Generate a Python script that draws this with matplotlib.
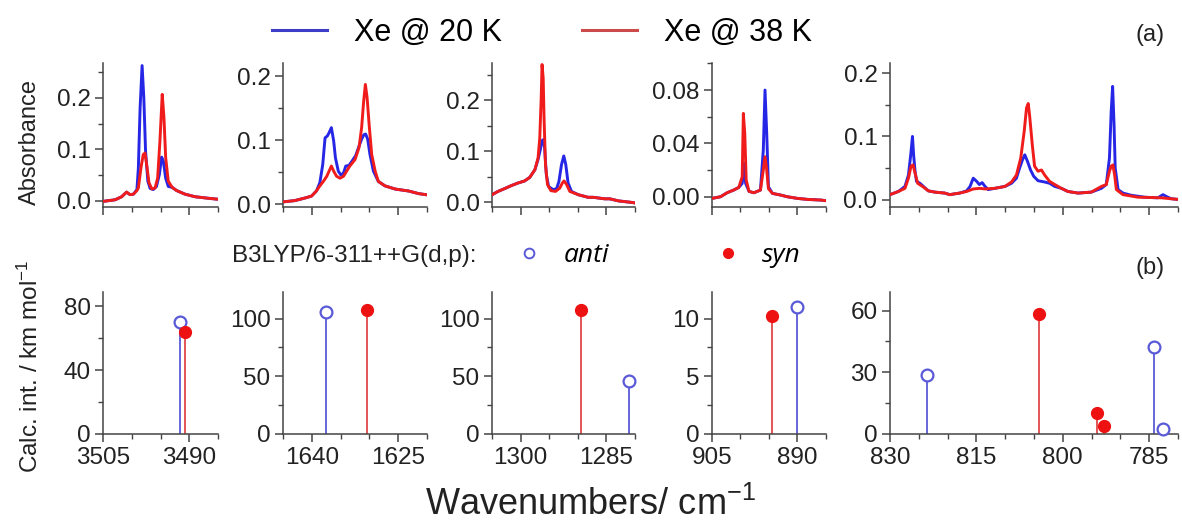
import matplotlib
matplotlib.use("Agg")
import matplotlib.pyplot as plt
from matplotlib.lines import Line2D
from matplotlib.ticker import MultipleLocator, FormatStrFormatter

plt.rcParams['font.family'] = ['Liberation Sans', 'DejaVu Sans']
plt.rcParams['mathtext.default'] = 'regular'

# ---------------- data ----------------
# Panel 1 (OH stretch region)
p1_wn_20 = [3504.95, 3502.9, 3501.75, 3500.9, 3500.3, 3499.7, 3499.1, 3498.85, 3498.55, 3498.2,
            3497.9, 3497.6, 3497.2, 3496.8, 3496.25, 3495.7, 3495.2, 3494.8, 3494.5, 3494.1,
            3493.65, 3492.95, 3492.2, 3490.75, 3489.0, 3486.7, 3484.95]
p1_ab_20 = [-0.001, 0.002, 0.008, 0.017, 0.012, 0.013, 0.022, 0.064, 0.18, 0.263,
            0.20, 0.097, 0.038, 0.024, 0.022, 0.028, 0.051, 0.085, 0.077, 0.044,
            0.028, 0.026, 0.020, 0.013, 0.008, 0.005, 0.003]
p1_wn_38 = [3504.95, 3502.9, 3501.75, 3500.9, 3500.3, 3499.7, 3499.1, 3498.85, 3498.4, 3498.0,
            3497.7, 3497.4, 3497.0, 3496.5, 3495.95, 3495.5, 3495.1, 3494.7, 3494.4, 3494.1,
            3493.65, 3492.95, 3492.2, 3490.75, 3489.0, 3486.7, 3484.95]
p1_ab_38 = [-0.001, 0.002, 0.008, 0.017, 0.012, 0.013, 0.020, 0.025, 0.064, 0.09,
            0.093, 0.07, 0.035, 0.023, 0.025, 0.044, 0.116, 0.207, 0.162, 0.084,
            0.038, 0.026, 0.020, 0.013, 0.008, 0.005, 0.003]

# Panel 2
p2_wn_20 = [1645.0, 1642.96, 1641.2, 1640.05, 1639.2, 1638.6, 1638.1, 1637.7, 1637.3, 1637.0,
            1636.6, 1636.2, 1635.9, 1635.4, 1634.95, 1634.5, 1634.1, 1633.55, 1633.0, 1632.4,
            1631.8, 1631.35, 1630.95, 1630.65, 1630.3, 1629.9, 1629.3, 1628.45, 1627.3, 1625.5,
            1623.2, 1621.5, 1620.0]
p2_ab_20 = [0.004, 0.006, 0.010, 0.013, 0.021, 0.034, 0.0625, 0.104, 0.107, 0.112,
            0.120, 0.099, 0.073, 0.052, 0.046, 0.049, 0.060, 0.061, 0.068, 0.076,
            0.091, 0.102, 0.109, 0.110, 0.102, 0.078, 0.052, 0.036, 0.029, 0.024,
            0.021, 0.017, 0.015]
p2_wn_38 = [1645.0, 1642.96, 1641.2, 1640.05, 1639.2, 1638.6, 1638.0, 1637.4, 1637.0, 1636.6,
            1636.2, 1635.7, 1635.1, 1634.5, 1633.95, 1633.4, 1632.5, 1631.8, 1631.35, 1631.0,
            1630.7, 1630.4, 1630.05, 1629.6, 1629.0, 1628.45, 1627.3, 1625.5, 1623.2, 1621.5,
            1620.0]
p2_ab_38 = [0.004, 0.006, 0.010, 0.013, 0.021, 0.029, 0.036, 0.044, 0.052, 0.060,
            0.052, 0.044, 0.041, 0.044, 0.052, 0.060, 0.070, 0.089, 0.120, 0.161,
            0.1875, 0.167, 0.125, 0.078, 0.052, 0.036, 0.029, 0.024, 0.021, 0.017,
            0.015]

# Panel 3
p3_wn_20 = [1305.0, 1303.95, 1302.8, 1301.6, 1300.45, 1299.3, 1298.4, 1297.5, 1296.95, 1296.5,
            1296.25, 1296.0, 1295.8, 1295.5, 1295.1, 1294.3, 1293.7, 1293.3, 1292.85, 1292.45,
            1292.1, 1291.7, 1291.1, 1289.9, 1288.2, 1287.3, 1285.3, 1284.4, 1282.9, 1280.6,
            1280.0]
p3_ab_20 = [0.015, 0.0215, 0.027, 0.033, 0.038, 0.042, 0.049, 0.064, 0.084, 0.106,
            0.121, 0.123, 0.106, 0.054, 0.031, 0.025, 0.027, 0.041, 0.074, 0.091,
            0.074, 0.038, 0.0215, 0.015, 0.010, 0.010, 0.007, 0.007, 0.003, 0.0,
            -0.001]
p3_wn_38 = [1305.0, 1303.95, 1302.8, 1301.6, 1300.45, 1299.3, 1298.4, 1297.5, 1296.95, 1296.65,
            1296.4, 1296.25, 1296.05, 1295.9, 1295.65, 1295.3, 1294.7, 1293.9, 1293.15, 1292.7,
            1292.4, 1291.95, 1291.4, 1289.9, 1288.2, 1287.3, 1285.3, 1284.4, 1282.9, 1280.6,
            1280.0]
p3_ab_38 = [0.015, 0.0215, 0.027, 0.033, 0.038, 0.042, 0.049, 0.064, 0.087, 0.126,
            0.204, 0.270, 0.243, 0.165, 0.074, 0.035, 0.023, 0.0215, 0.028, 0.038,
            0.042, 0.035, 0.0215, 0.015, 0.010, 0.010, 0.007, 0.007, 0.003, 0.0,
            -0.001]

# Panel 4
p4_wn_20 = [905.0, 903.5, 902.35, 901.2, 900.3, 899.7, 899.4, 899.1, 898.5, 897.65,
            896.5, 896.0, 895.7, 895.4, 895.1, 894.4, 892.95, 891.8, 890.0, 888.25,
            885.9, 885.0]
p4_ab_20 = [-0.00125, 0.0, 0.003, 0.005, 0.007, 0.010, 0.025, 0.010, 0.004, 0.003,
            0.005, 0.035, 0.080, 0.0475, 0.0075, 0.0025, 0.00125, 0.0, -0.00125, -0.002,
            -0.0025, -0.003]
p4_wn_38 = [905.0, 903.5, 902.35, 901.2, 900.3, 899.7, 899.5, 899.25, 899.0, 898.5,
            897.65, 896.5, 896.0, 895.7, 895.4, 895.1, 894.4, 892.95, 891.8, 890.0,
            888.25, 885.9, 885.0]
p4_ab_38 = [-0.00125, 0.0, 0.003, 0.005, 0.007, 0.015, 0.0625, 0.0475, 0.0125, 0.004,
            0.003, 0.005, 0.020, 0.030, 0.020, 0.006, 0.0025, 0.00125, 0.0, -0.00125,
            -0.002, -0.0025, -0.003]

# Panel 5
p5_wn_20 = [830.0, 828.55, 827.4, 826.8, 826.4, 826.1, 825.9, 825.65, 825.4, 824.8,
            824.2, 823.35, 822.2, 820.5, 819.6, 819.0, 817.9, 816.7, 816.1, 815.55,
            814.95, 814.5, 814.0, 813.5, 812.95, 811.8, 810.05, 808.9, 808.05, 807.5,
            807.0, 806.6, 806.15, 805.6, 805.05, 804.3, 803.15, 802.3, 801.4, 800.25,
            799.1, 797.35, 795.05, 793.3, 792.45, 791.9, 791.6, 791.35, 791.1, 790.9,
            790.4, 789.55, 788.1, 785.8, 783.5, 782.6, 782.0, 781.2, 780.0]
p5_ab_20 = [0.008, 0.013, 0.021, 0.039, 0.071, 0.100, 0.071, 0.045, 0.029, 0.026,
            0.021, 0.014, 0.012, 0.0105, 0.008, 0.009, 0.0105, 0.014, 0.021, 0.034,
            0.029, 0.024, 0.027, 0.021, 0.016, 0.018, 0.021, 0.026, 0.034, 0.050,
            0.063, 0.071, 0.061, 0.047, 0.037, 0.030, 0.028, 0.026, 0.021, 0.018,
            0.013, 0.0105, 0.012, 0.018, 0.024, 0.066, 0.139, 0.179, 0.118, 0.050,
            0.016, 0.0105, 0.007, 0.004, 0.003, 0.008, 0.005, 0.0016, 0.0005]
p5_wn_38 = [830.0, 828.55, 827.4, 826.8, 826.35, 826.0, 825.65, 825.2, 824.2, 823.35,
            822.2, 820.5, 819.6, 819.0, 817.9, 816.7, 815.55, 814.4, 813.5, 811.8,
            810.05, 808.9, 808.05, 807.3, 806.7, 806.3, 806.0, 805.75, 805.3, 804.9,
            804.3, 803.7, 803.15, 802.3, 801.4, 800.25, 799.1, 797.35, 795.05, 793.3,
            792.45, 791.9, 791.6, 791.3, 791.0, 790.7, 789.55, 786.95, 782.9, 780.0]
p5_ab_38 = [0.008, 0.013, 0.018, 0.034, 0.053, 0.055, 0.042, 0.026, 0.020, 0.014,
            0.012, 0.0105, 0.008, 0.009, 0.0105, 0.013, 0.017, 0.018, 0.017, 0.018,
            0.021, 0.028, 0.039, 0.066, 0.108, 0.145, 0.152, 0.132, 0.087, 0.053,
            0.045, 0.047, 0.039, 0.029, 0.024, 0.018, 0.013, 0.0105, 0.012, 0.021,
            0.024, 0.045, 0.053, 0.055, 0.039, 0.016, 0.008, 0.004, 0.003, 0.0005]

# Calculated B3LYP/6-311++G(d,p) intensities
anti_wn = [[3491.6], [1637.5], [1281.0], [890.0], [823.6, 784.2, 782.6]]
anti_int = [[70.4], [105.8], [46.0], [11.0], [28.8, 42.3, 2.3]]
syn_wn = [[3490.7], [1630.4], [1289.5], [894.5], [804.2, 794.1, 792.9]]
syn_int = [[64.0], [107.0], [107.0], [10.2], [58.3, 10.1, 3.9]]

# axis settings per panel
x_limits = [(3505, 3485), (1645, 1620), (1305, 1280), (905, 885), (830, 780)]
x_major = [[3505, 3490], [1640, 1625], [1300, 1285], [905, 890], [830, 815, 800, 785]]
top_ylim = [(-0.012, 0.268), (-0.004, 0.221), (-0.009, 0.273), (-0.0077, 0.1003), (-0.0115, 0.216)]
top_major = [0.1, 0.1, 0.1, 0.04, 0.1]
top_fmt = ['%.1f', '%.1f', '%.1f', '%.2f', '%.1f']
bot_ylim = [(0, 89), (0, 123), (0, 123), (0, 12.3), (0, 69)]
bot_major = [40, 50, 50, 5, 30]

spec20 = [(p1_wn_20, p1_ab_20), (p2_wn_20, p2_ab_20), (p3_wn_20, p3_ab_20),
          (p4_wn_20, p4_ab_20), (p5_wn_20, p5_ab_20)]
spec38 = [(p1_wn_38, p1_ab_38), (p2_wn_38, p2_ab_38), (p3_wn_38, p3_ab_38),
          (p4_wn_38, p4_ab_38), (p5_wn_38, p5_ab_38)]

# ---------------- styling ----------------
W, H = 1182, 524
BLUE = '#2626e6'
RED = '#f01c1c'
STEM_BLUE = '#5a5ad8'
STEM_RED = '#e04848'
AX_COL = '#444444'
TXT = '#222222'

panel_px = [(103, 218), (283, 427), (492, 635), (712, 826), (890, 1178)]
top_px = (63, 207)
bot_px = (292, 434)

fig = plt.figure(figsize=(W / 100, H / 100), dpi=100)


def add_ax(xpx, ypx):
    l, r = xpx
    t, b = ypx
    return fig.add_axes([l / W, 1 - b / H, (r - l) / W, (b - t) / H])


def style(ax):
    for s in ('top', 'right'):
        ax.spines[s].set_visible(False)
    for s in ('left', 'bottom'):
        ax.spines[s].set_color(AX_COL)
        ax.spines[s].set_linewidth(1.1)
    ax.tick_params(which='major', direction='out', length=6, width=1.1,
                   color=AX_COL, labelsize=17.5, labelcolor=TXT, pad=3)
    ax.tick_params(which='minor', direction='out', length=3.5, width=1.0, color=AX_COL)
    ax.patch.set_alpha(0)


for i in range(5):
    ax_t = add_ax(panel_px[i], top_px)
    ax_b = add_ax(panel_px[i], bot_px)
    style(ax_t)
    style(ax_b)

    wn, ab = spec20[i]
    ax_t.plot(wn, ab, color=BLUE, lw=2.1, zorder=2, solid_joinstyle='round')
    wn, ab = spec38[i]
    ax_t.plot(wn, ab, color=RED, lw=2.1, zorder=3, solid_joinstyle='round')

    for a in (ax_t, ax_b):
        a.set_xlim(*x_limits[i])
        a.set_xticks(x_major[i])
        a.xaxis.set_minor_locator(MultipleLocator(5))
    ax_t.tick_params(axis='x', labelbottom=False)

    ax_t.set_ylim(*top_ylim[i])
    ax_t.yaxis.set_major_locator(MultipleLocator(top_major[i]))
    ax_t.yaxis.set_minor_locator(MultipleLocator(top_major[i] / 2))
    ax_t.yaxis.set_major_formatter(FormatStrFormatter(top_fmt[i]))

    ax_b.set_ylim(*bot_ylim[i])
    ax_b.yaxis.set_major_locator(MultipleLocator(bot_major[i]))
    ax_b.yaxis.set_minor_locator(MultipleLocator(bot_major[i] / 2))

    ax_b.vlines(anti_wn[i], 0, anti_int[i], color=STEM_BLUE, lw=1.3, zorder=2)
    ax_b.vlines(syn_wn[i], 0, syn_int[i], color=STEM_RED, lw=1.3, zorder=2)
    ax_b.plot(anti_wn[i], anti_int[i], 'o', ms=8.5, mfc='white', mec=STEM_BLUE,
              mew=1.6, clip_on=False, zorder=4)
    ax_b.plot(syn_wn[i], syn_int[i], 'o', ms=8.5, mfc='#ee1111', mec='#ee1111',
              clip_on=False, zorder=4)

# axis labels
fig.text(30 / W, 1 - 142 / H, 'Absorbance', rotation=90, ha='center', va='center',
         fontsize=17, color=TXT)
fig.text(30 / W, 1 - 366 / H, 'Calc. int. / km mol$^{-1}$', rotation=90, ha='center',
         va='center', fontsize=17.5, color=TXT)
fig.text(590 / W, 1 - 505 / H, 'Wavenumbers/ cm$^{-1}$', ha='center', va='center',
         fontsize=26, color=TXT)

# panel tags
fig.text(1150 / W, 1 - 35 / H, '(a)', ha='center', va='center', fontsize=17, color=TXT)
fig.text(1150 / W, 1 - 268 / H, '(b)', ha='center', va='center', fontsize=17, color=TXT)

# legend (a)
h_leg = [Line2D([], [], color='#3c3cc8', lw=2.2), Line2D([], [], color='#cc4a4a', lw=2.2)]
fig.legend(h_leg, ['Xe @ 20 K', 'Xe @ 38 K'], loc='center', ncol=2,
           bbox_to_anchor=(542 / W, 1 - 33 / H), frameon=False, fontsize=22,
           handlelength=1.8, handletextpad=0.9, columnspacing=2.6)

# legend (b)
fig.text(232 / W, 1 - 256 / H, 'B3LYP/6-311++G(d,p):', ha='left', va='center',
         fontsize=17.5, color=TXT)
h_calc = [Line2D([], [], ls='none', marker='o', ms=7, mfc='white', mec=STEM_BLUE, mew=1.4),
          Line2D([], [], ls='none', marker='o', ms=7, mfc='#ee1111', mec='#ee1111')]
fig.legend(h_calc, ['anti', 'syn'], loc='center left', ncol=2,
           bbox_to_anchor=(492 / W, 1 - 256 / H), frameon=False,
           prop={'family': 'Open Sans', 'style': 'italic', 'size': 19},
           handlelength=1.0, handletextpad=0.8, columnspacing=4.0)

fig.savefig('out.png', dpi=100)
